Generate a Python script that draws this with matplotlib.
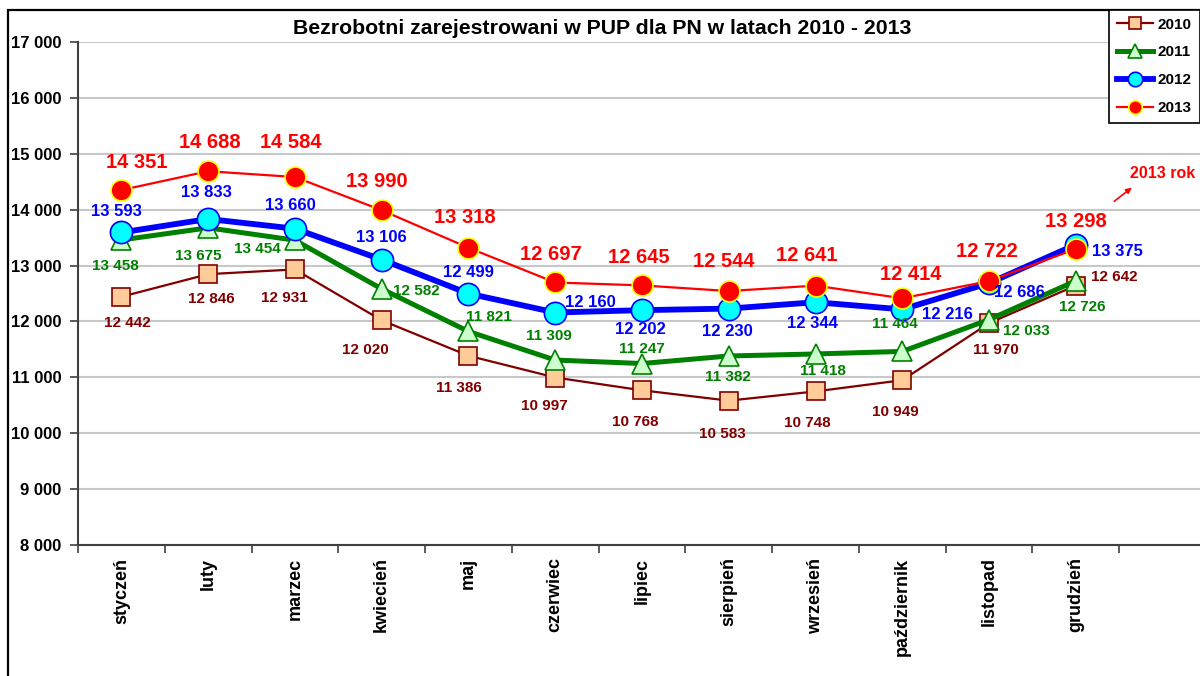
import matplotlib
matplotlib.use("Agg")
import matplotlib.pyplot as plt
from matplotlib.patches import Rectangle, FancyArrowPatch
from matplotlib.lines import Line2D

plt.rcParams['font.family'] = ['Liberation Sans', 'DejaVu Sans']

months = ["styczeń", "luty", "marzec", "kwiecień", "maj", "czerwiec", "lipiec",
          "sierpień", "wrzesień", "październik", "listopad", "grudzień"]
y2010 = [12442, 12846, 12931, 12020, 11386, 10997, 10768, 10583, 10748, 10949, 11970, 12642]
y2011 = [13458, 13675, 13454, 12582, 11821, 11309, 11247, 11382, 11418, 11464, 12033, 12726]
y2012 = [13593, 13833, 13660, 13106, 12499, 12160, 12202, 12230, 12344, 12216, 12686, 13375]
y2013 = [14351, 14688, 14584, 13990, 13318, 12697, 12645, 12544, 12641, 12414, 12722, 13298]
yticks = [8000, 9000, 10000, 11000, 12000, 13000, 14000, 15000, 16000, 17000]
title = "Bezrobotni zarejestrowani w PUP dla PN w latach 2010 - 2013"

# label offsets (pixels) relative to each point
off2010 = [(6, -26), (3, -25), (-11, -29), (-16, -30), (-10, -32), (-11, -28), (-7, -32),
           (-6, -33), (-8, -32), (-7, -32), (7, -27), (38, 9)]
off2011 = [(-6, -26), (-10, -28), (-38, -9), (35, -2), (20, 14), (-6, 24), (0, 15),
           (-1, -21), (7, -17), (-7, 27), (37, -11), (6, -26)]
off2012 = [(-5, 21), (-2, 27), (-5, 23), (0, 22), (0, 21), (35, 10), (-2, -19),
           (-1, -23), (-3, -21), (45, -5), (30, -9), (42, -7)]
off2013 = [(15, 28), (2, 29), (-4, 35), (-5, 29), (-4, 30), (-4, 28), (-3, 28),
           (-5, 30), (-9, 30), (8, 24), (-2, 30), (0, 27)]

def fmt(v):
    return f"{v:,}".replace(",", " ")

fig = plt.figure(figsize=(12, 6.76), dpi=100)
W, H = 1200, 676
ax = fig.add_axes([78 / W, 1 - 545 / H, (1206 - 78) / W, (545 - 42) / H])

x = [i + 0.5 for i in range(len(months))]

series = [
    (y2010, "2010", dict(color="#800000", lw=1.6, marker="s", ms=13, mfc="#FFCC99", mec="#800000", mew=1.2), off2010, "#800000", 11),
    (y2011, "2011", dict(color="#008000", lw=3.6, marker="^", ms=15, mfc="#CCFFCC", mec="#008000", mew=1.2), off2011, "#008000", 11),
    (y2012, "2012", dict(color="#0000FF", lw=4.2, marker="o", ms=16, mfc="#00FFFF", mec="#0000FF", mew=1.2), off2012, "#0000FF", 12),
    (y2013, "2013", dict(color="#FF0000", lw=1.6, marker="o", ms=15, mfc="#FF0000", mec="#FFFF00", mew=1.2), off2013, "#FF0000", 14.5),
]

handles = []
for vals, name, style, offs, col, fs in series:
    ax.plot(x, vals, label=name, zorder=3, **style)
    for xi, v, (dx, dy) in zip(x, vals, offs):
        ax.annotate(fmt(v), (xi, v), xytext=(dx, dy), textcoords="offset pixels",
                    ha="center", va="center", color=col, fontsize=fs,
                    fontweight="bold", zorder=5)
    hstyle = dict(style)
    hstyle["ms"] = style["ms"] * 0.65
    handles.append(Line2D([0], [0], **hstyle))

ax.set_xlim(0, 13)
ax.set_ylim(8000, 17000)
ax.set_yticks(yticks)
ax.set_yticklabels([fmt(t) for t in yticks], fontsize=12, fontweight="bold")
ax.set_xticks(range(0, 13))
ax.set_xticklabels([])
ax.set_xticks(x, minor=True)
ax.set_xticklabels(months, minor=True, rotation=90, fontsize=13, fontweight="bold", va="top")
ax.tick_params(axis="x", which="minor", length=0, pad=9)
ax.tick_params(axis="x", which="major", length=6, width=1.2, direction="out", color="#404040")
ax.tick_params(axis="y", length=6, width=1.2, direction="out", pad=6, color="#404040")
ax.grid(axis="y", color="#C8C8C8", lw=1.5, zorder=0)
ax.set_axisbelow(True)
for s in ["top", "right"]:
    ax.spines[s].set_visible(False)
for s in ["left", "bottom"]:
    ax.spines[s].set_color("#404040")
    ax.spines[s].set_linewidth(1.5)

# outer frame
fig.patches.append(Rectangle((8 / W, -0.1), 1.2, 1 - 10 / H + 0.1, transform=fig.transFigure,
                             fill=False, ec="black", lw=1.6, zorder=0))

fig.text(602 / W, 1 - 28 / H, title, ha="center", va="center", fontsize=15.3,
         fontweight="bold")

leg = fig.legend(handles, ["2010", "2011", "2012", "2013"], loc="upper left",
                 bbox_to_anchor=(1109 / W, 1 - 10 / H), frameon=True, fancybox=False,
                 edgecolor="black", framealpha=1, prop=dict(weight="bold", size=11),
                 handlelength=2.4, handletextpad=0.3, borderpad=0.5, labelspacing=0.9,
                 borderaxespad=0)
leg.get_frame().set_linewidth(1.2)

fig.text(1163 / W, 1 - 173 / H, "2013 rok", ha="center", va="center", color="#FF0000",
         fontsize=11.5, fontweight="bold")
fig.add_artist(FancyArrowPatch((1112 / W, 1 - 203 / H), (1134 / W, 1 - 186 / H),
                               transform=fig.transFigure, arrowstyle="-|>",
                               mutation_scale=8, color="#FF0000", lw=1.2))

fig.savefig("out.png", dpi=100)
